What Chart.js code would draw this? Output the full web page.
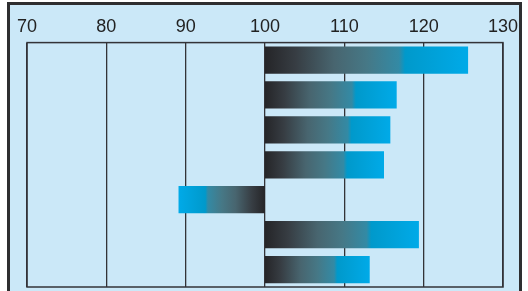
<!DOCTYPE html>
<html>
<head>
<meta charset="utf-8">
<script src="https://cdn.jsdelivr.net/npm/chart.js@4/dist/chart.umd.min.js"></script>
<style>
  html, body { margin: 0; padding: 0; background: #fff; }
  #wrap { position: relative; width: 528px; height: 291px; }
</style>
</head>
<body>
<div id="wrap"><canvas id="chart" width="528" height="291"></canvas></div>
<script>
// Index values, base 100
const categories = ['A', 'B', 'C', 'D', 'E', 'F', 'G'];
const baseValue = 100;
const values = [125.6, 116.6, 115.8, 115.0, 89.1, 119.4, 113.2];
const tickLabels = [70, 80, 90, 100, 110, 120, 130];

// frame + light blue paper behind the plot
const framePlugin = {
    id: 'frame',
    beforeDraw(chart) {
        const ctx = chart.ctx;
        ctx.save();
        ctx.fillStyle = '#ffffff';
        ctx.fillRect(0, 0, chart.width, chart.height);
        ctx.fillStyle = '#cbe8f8';
        ctx.fillRect(9, 4, 512, 300);
        ctx.strokeStyle = '#2e2e30';
        ctx.lineWidth = 3;
        ctx.beginPath();
        ctx.moveTo(8.5, 300);
        ctx.lineTo(8.5, 3.5);
        ctx.lineTo(520.5, 3.5);
        ctx.lineTo(520.5, 300);
        ctx.stroke();
        ctx.restore();
    },
    afterDatasetsDraw(chart) {
        const { left, right, top, bottom } = chart.chartArea;
        const ctx = chart.ctx;
        ctx.save();
        ctx.strokeStyle = '#333338';
        ctx.lineWidth = 1.5;
        ctx.strokeRect(left, top, right - left, bottom - top);
        ctx.restore();
    }
};

function barGradient(context) {
    const chart = context.chart;
    if (!chart.chartArea) return '#00a9e6';
    const x = chart.scales.x;
    const v = values[context.dataIndex];
    const x0 = x.getPixelForValue(baseValue);
    const x1 = x.getPixelForValue(v);
    const g = chart.ctx.createLinearGradient(x0, 0, x1, 0);
    g.addColorStop(0, '#252528');
    g.addColorStop(0.15, '#373d43');
    g.addColorStop(0.34, '#48656f');
    g.addColorStop(0.5, '#467886');
    g.addColorStop(0.66, '#338aa5');
    g.addColorStop(0.69, '#0099cb');
    g.addColorStop(1, '#00aae8');
    return g;
}

new Chart(document.getElementById('chart'), {
    type: 'bar',
    data: {
        labels: categories,
        datasets: [{
            data: values.map(v => [baseValue, v]),
            backgroundColor: barGradient,
            borderWidth: 0,
            borderSkipped: false,
            categoryPercentage: 1,
            barPercentage: 0.78
        }]
    },
    options: {
        indexAxis: 'y',
        responsive: false,
        animation: false,
        layout: { padding: { left: 19, right: 25, top: 11, bottom: 4 } },
        plugins: {
            legend: { display: false },
            tooltip: { enabled: false }
        },
        scales: {
            x: {
                position: 'top',
                min: tickLabels[0],
                max: tickLabels[tickLabels.length - 1],
                afterBuildTicks(axis) {
                    axis.ticks = tickLabels.map(v => ({ value: v }));
                },
                ticks: {
                    color: '#222',
                    font: { family: 'Liberation Sans', size: 18 },
                    padding: 5,
                    maxRotation: 0
                },
                grid: {
                    color: '#333338',
                    lineWidth: 1.3,
                    drawTicks: false
                },
                border: { display: false }
            },
            y: {
                ticks: { display: false },
                grid: { display: false },
                border: { display: false }
            }
        }
    },
    plugins: [framePlugin]
});
</script>
</body>
</html>
